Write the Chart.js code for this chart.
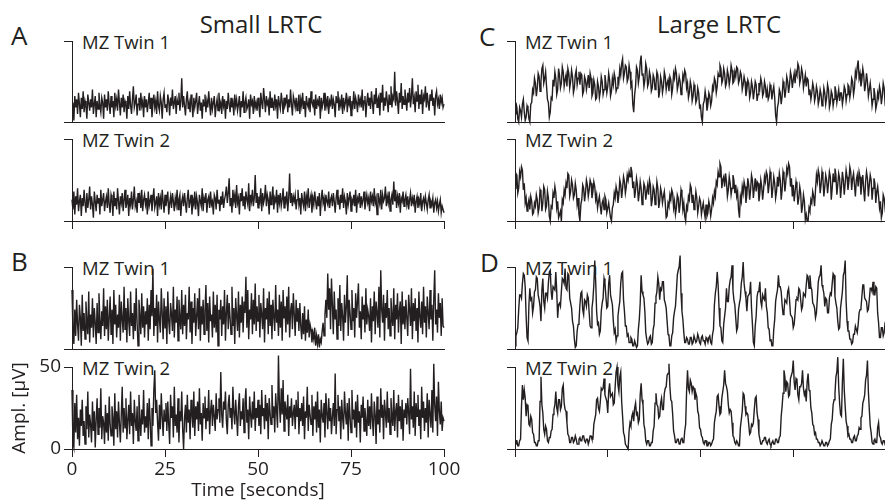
<!DOCTYPE html>
<html>
<head>
<meta charset="utf-8">
<script src="https://cdn.jsdelivr.net/npm/chart.js@4.4.0/dist/chart.umd.min.js"></script>
<style>
  body { margin: 0; width: 885px; height: 502px; overflow: hidden; background: #fff; position: relative;
         font-family: "Open Sans", sans-serif; color: #231f20; }
  .lbl { position: absolute; white-space: nowrap; line-height: 1; transform: translateY(-50%); }
  .letter { font-size: 26px; }
  .head { font-size: 24px; transform: translate(-50%, -50%); }
  .twin { font-size: 18.5px; }
  canvas { position: absolute; }
</style>
</head>
<body>
<div class="lbl letter" style="left:11px;top:35px">A</div>
<div class="lbl letter" style="left:11px;top:261px">B</div>
<div class="lbl letter" style="left:479px;top:36px">C</div>
<div class="lbl letter" style="left:480px;top:262px">D</div>
<div class="lbl head" style="left:261px;top:24px">Small LRTC</div>
<div class="lbl head" style="left:719px;top:24px">Large LRTC</div>
<div class="lbl twin" style="left:82px;top:42px">MZ Twin 1</div>
<div class="lbl twin" style="left:82px;top:140px">MZ Twin 2</div>
<div class="lbl twin" style="left:82px;top:268px">MZ Twin 1</div>
<div class="lbl twin" style="left:82px;top:368px">MZ Twin 2</div>
<div class="lbl twin" style="left:525px;top:42px">MZ Twin 1</div>
<div class="lbl twin" style="left:525px;top:140px">MZ Twin 2</div>
<div class="lbl twin" style="left:525px;top:268px">MZ Twin 1</div>
<div class="lbl twin" style="left:525px;top:368px">MZ Twin 2</div>

<canvas id="a1"></canvas>
<canvas id="a2"></canvas>
<canvas id="b1"></canvas>
<canvas id="b2"></canvas>
<canvas id="c1"></canvas>
<canvas id="c2"></canvas>
<canvas id="d1"></canvas>
<canvas id="d2"></canvas>

<script>
const timeRange = [0, 100]; // seconds
const timeTicks = [0, 25, 50, 75, 100];
const amplTicks = [0, 50];

// amplitude envelopes (uV), one sample every 0.25 s
const smallTwin1A = [
  4,12,1,16,9,14,5,18,11,3,15,8,19,6,13,10,2,17,12,7,14,9,20,5,11,16,3,13,8,18,10,6,15,12,2,17,9,14,7,19,
  11,5,16,9,13,3,18,10,14,7,20,12,4,15,9,17,6,13,11,2,16,8,19,10,5,14,22,9,12,17,4,11,15,7,18,10,13,3,16,9,
  14,6,12,18,8,15,3,11,17,9,13,5,19,10,7,16,12,2,14,18,9,11,6,17,13,4,15,10,20,8,12,16,5,14,11,18,7,13,27,9,
  16,10,4,14,19,8,12,6,17,11,3,15,9,13,18,5,11,16,7,12,2,14,10,17,6,13,9,19,11,4,15,8,12,16,3,10,14,7,18,9,
  12,5,16,10,14,2,13,8,18,11,6,15,9,12,4,17,10,14,7,11,16,3,13,9,19,6,12,15,8,10,14,2,17,11,13,5,16,9,12,7,
  15,10,3,18,12,8,21,14,6,16,11,13,4,19,9,15,12,7,17,10,14,2,16,11,8,18,13,5,15,10,12,17,6,14,9,20,11,4,16,13,
  9,15,7,12,17,5,14,10,18,8,13,3,16,11,9,15,6,19,12,10,14,4,17,8,13,11,16,2,15,9,12,18,7,14,10,16,5,13,11,17,
  8,14,11,3,16,12,19,7,13,10,17,5,15,9,12,18,6,14,11,16,4,13,10,19,8,15,12,6,17,11,14,9,20,7,13,16,3,12,18,10,
  15,8,19,12,5,17,11,21,9,14,16,4,18,12,23,7,15,10,19,13,6,17,11,22,9,16,14,31,10,19,13,5,18,12,24,8,16,11,20,14,
  7,18,12,21,9,16,27,11,15,6,19,13,23,8,17,11,20,5,16,14,22,9,18,12,7,17,13,20,10,15,4,16,19,11,14,8,17,12,15,9,
  11
];
const smallTwin2A = [
  13,7,18,4,15,10,20,6,12,16,3,14,9,19,11,5,17,8,13,21,7,15,10,2,18,12,6,16,11,14,4,19,9,13,17,6,12,15,8,20,
  10,5,16,13,3,18,9,14,7,20,12,4,15,11,17,6,13,19,8,11,16,3,14,10,18,7,13,21,9,12,5,17,11,15,8,19,6,13,16,10,
  14,4,18,9,12,16,6,13,20,8,11,15,3,17,10,14,7,19,12,5,16,9,13,18,4,11,15,8,17,12,6,14,10,19,7,13,16,3,12,15,
  9,17,11,5,14,19,8,12,16,4,13,10,18,7,15,11,3,16,12,9,20,6,14,11,17,5,13,15,8,18,10,12,4,16,14,7,19,11,13,6,
  15,10,18,8,13,16,21,11,17,26,9,14,5,19,12,16,8,22,11,14,4,17,12,20,9,15,7,18,13,10,23,6,16,12,19,9,14,28,11,17,
  8,15,12,20,6,17,11,14,22,9,16,13,4,18,10,15,21,7,14,12,19,5,16,11,17,9,13,20,8,15,12,18,6,14,29,11,17,9,15,12,
  16,7,13,19,10,14,4,17,12,9,18,6,15,11,20,8,13,16,5,14,10,18,12,7,15,9,17,3,13,19,11,14,6,16,12,10,18,8,13,15,
  9,17,12,5,14,19,10,13,7,16,11,20,8,15,12,4,17,10,14,18,6,13,11,16,9,19,5,14,12,17,8,15,10,13,18,7,12,16,11,14,
  6,18,12,15,9,20,11,14,4,17,13,10,19,7,16,12,14,21,9,15,11,18,6,13,16,10,24,12,19,8,15,11,17,5,14,12,18,9,13,16,
  10,15,7,13,17,9,14,11,16,5,12,15,8,13,10,17,6,12,14,9,15,11,7,13,16,8,12,10,14,5,11,13,8,12,6,10,13,5,9,7,
  5
];
const smallTwin1B = [
  36,12,3,24,8,30,15,5,27,19,2,33,11,22,6,29,17,9,35,4,21,13,31,7,25,16,3,28,10,34,18,6,23,14,37,8,26,12,30,5,
  19,32,9,24,3,36,15,27,7,21,13,33,5,29,18,10,38,12,25,4,31,17,8,35,14,22,6,28,11,37,16,2,30,20,9,34,13,26,7,23,
  15,31,5,27,12,36,20,49,8,25,14,33,4,29,18,10,37,22,6,31,13,26,3,35,17,9,28,21,11,38,7,24,16,32,5,30,19,12,36,9,
  27,14,33,6,22,18,38,10,29,3,25,16,34,8,20,31,12,37,5,26,15,30,9,23,39,11,28,4,32,17,21,7,35,13,27,10,33,2,24,18,
  30,8,26,15,36,5,22,33,12,28,19,9,38,14,25,3,31,20,11,35,7,27,16,32,10,29,22,44,13,36,6,24,18,34,9,30,15,40,11,26,
  17,33,7,28,21,12,37,4,25,18,31,9,35,14,27,6,30,20,11,39,16,24,8,33,13,29,5,36,19,26,10,32,15,38,7,23,28,12,34,21,
  8,30,17,25,11,28,14,6,22,9,26,5,18,10,24,7,15,12,4,10,6,13,2,8,3,9,1,6,4,11,16,8,21,30,19,46,24,37,12,43,
  27,9,35,18,24,6,31,14,39,11,28,20,5,33,16,26,45,8,30,22,12,36,17,25,7,34,19,29,40,13,23,6,32,18,27,10,37,15,24,20,
  11,31,4,26,17,35,9,29,22,13,38,7,48,24,16,33,5,28,19,36,12,25,8,31,20,14,37,6,27,18,34,10,23,29,3,35,15,26,12,30,
  19,8,33,24,14,37,6,28,17,31,11,25,4,35,20,13,29,9,38,16,26,7,32,22,12,36,18,27,5,30,48,15,24,10,34,19,28,8,31,14,
  13
];
const smallTwin2B = [
  36,4,1,28,10,33,6,19,2,24,14,30,8,17,3,26,12,35,7,21,15,4,29,11,23,1,18,31,9,25,13,37,6,20,16,3,27,10,22,5,
  32,15,8,26,19,2,34,12,23,7,29,16,4,21,38,10,25,13,31,6,18,27,9,35,14,22,3,30,17,11,26,5,33,19,8,24,15,36,10,20,
  13,28,6,31,18,2,25,14,36,48,22,30,16,5,27,12,34,20,8,24,17,28,11,29,15,3,33,19,26,7,38,14,21,10,31,4,23,17,35,12,
  0,19,27,10,33,16,24,6,30,21,13,35,8,26,18,29,11,37,15,22,5,28,19,32,12,25,17,36,9,23,30,14,27,20,11,34,18,24,31,16,
  47,21,13,29,24,35,17,9,27,33,19,25,12,38,22,15,30,20,8,26,34,14,23,18,31,10,28,37,16,24,6,32,21,13,29,18,35,11,25,19,
  30,14,27,9,36,20,25,12,33,17,28,6,31,22,15,39,19,26,10,34,23,13,57,28,16,37,21,42,11,29,24,18,33,8,26,19,31,14,22,27,
  12,30,20,35,9,25,17,28,14,32,6,23,19,38,11,27,21,15,33,8,26,18,29,10,35,13,24,4,30,20,16,28,7,34,22,12,31,17,25,9,
  20,28,14,46,9,24,33,17,26,6,30,19,12,35,22,15,28,5,31,20,10,36,18,24,13,29,7,33,16,23,4,27,19,32,11,25,17,8,30,14,
  26,12,34,18,8,29,21,3,32,15,24,10,37,19,27,6,30,22,13,35,16,25,9,31,20,14,36,11,23,28,7,33,17,26,12,30,5,24,19,28,
  15,31,22,9,49,18,26,13,35,8,28,20,33,14,24,6,38,19,29,11,25,16,34,7,30,21,13,36,10,52,27,17,32,8,41,23,15,29,11,19,
  17
];
const largeTwin1C = [
  5,12,9,2,0,9,7,3,11,14,6,1,3,10,8,2,0,11,12,20,18,27,24,16,21,30,28,19,25,33,35,24,27,31,22,14,12,3,6,15,
  14,26,22,31,27,17,20,33,29,21,24,34,31,22,26,29,22,33,30,21,25,32,28,18,21,29,32,23,27,31,23,30,29,17,19,28,26,20,24,29,
  21,30,27,16,18,26,23,14,15,25,22,15,19,28,25,17,20,29,24,18,22,30,26,16,19,27,23,30,27,19,21,28,25,33,29,36,39,27,30,35,
  34,25,27,35,31,22,24,11,6,17,22,34,32,24,28,37,41,29,30,22,26,36,33,22,24,31,28,19,21,29,27,20,23,31,29,15,19,28,25,18,
  22,31,28,20,24,26,19,28,26,17,21,30,27,33,30,20,23,28,25,17,20,29,26,32,30,21,24,15,18,25,22,13,16,23,20,12,14,21,18,9,
  10,3,0,11,13,19,15,7,11,18,16,10,13,22,20,27,25,18,22,30,28,35,33,24,26,33,30,22,24,32,29,23,27,35,32,24,25,31,28,34,
  33,24,26,31,29,20,23,28,25,16,20,26,24,15,18,25,22,14,19,25,23,13,17,24,21,27,24,16,18,25,22,15,20,14,16,23,21,14,19,22,
  15,4,0,9,12,20,18,11,16,25,22,15,20,28,25,18,23,31,28,21,26,30,24,31,29,36,34,24,27,33,30,21,25,29,22,27,26,17,20,14,
  18,24,21,13,16,22,19,11,14,20,17,10,13,21,18,11,15,23,20,9,12,19,17,10,14,22,19,12,16,20,13,18,18,11,15,22,20,13,17,23,
  22,15,19,27,25,17,21,31,28,34,38,27,30,22,26,33,29,19,23,30,25,16,20,24,18,10,14,21,17,8,11,18,15,22,19,11,16,24,21,12,
  14
];
const largeTwin2C = [
  20,29,28,17,20,30,27,33,31,19,23,11,14,6,10,13,7,15,12,4,5,11,9,16,13,5,8,19,17,6,11,21,19,7,9,18,14,3,0,9,
  8,17,14,21,17,8,12,2,4,6,0,13,11,19,16,23,20,29,28,15,18,25,22,14,16,23,19,10,14,4,0,10,13,22,20,12,17,25,22,15,
  19,25,23,14,18,24,21,13,16,8,12,15,9,4,11,13,7,15,13,5,8,11,6,2,0,8,10,17,14,21,18,11,16,25,22,14,20,27,24,17,
  21,28,25,30,27,33,30,20,24,14,19,26,22,12,17,24,20,10,14,23,21,13,18,22,16,25,22,9,13,21,19,10,15,24,20,8,12,20,17,11,
  15,18,11,2,3,11,9,16,13,19,17,8,12,4,8,16,14,5,10,19,16,7,11,3,0,9,7,15,13,22,20,11,16,7,11,18,14,5,9,14,
  12,4,8,11,6,2,10,3,5,12,9,3,7,14,11,18,15,24,22,30,27,35,33,20,25,27,21,29,24,15,19,27,23,16,20,28,25,17,22,15,
  18,7,2,15,12,21,17,24,21,11,16,26,22,13,19,28,25,14,20,26,18,24,23,12,17,25,21,13,19,27,24,30,28,17,22,30,26,14,20,27,
  23,14,18,27,21,29,25,13,19,30,27,18,24,32,29,35,33,21,26,15,22,12,18,24,20,10,14,21,17,5,9,16,12,1,4,0,0,8,6,13,
  11,18,15,9,19,28,24,31,28,17,22,30,26,15,21,28,25,17,23,30,27,13,20,29,24,32,28,16,22,29,26,14,21,30,25,16,23,31,27,19,
  24,33,30,19,26,29,22,15,25,28,21,30,27,16,23,28,19,12,24,30,26,15,22,28,25,13,20,26,23,11,18,21,15,8,12,2,5,16,14,8,
  11
];
const largeTwin1D = [
  2,8,10,13,24,33,33,31,40,46,45,38,20,7,5,27,37,30,31,22,26,35,36,44,43,33,30,26,17,36,43,29,25,34,34,31,40,47,48,35,
  30,38,38,36,47,35,19,27,28,26,35,43,42,40,49,37,36,46,45,31,28,25,17,14,6,1,2,11,15,17,27,34,35,24,21,30,29,26,33,31,
  22,14,13,25,30,39,54,41,23,15,16,9,11,23,28,31,43,40,32,25,26,40,45,33,30,27,17,10,12,5,8,20,25,29,40,46,47,30,23,14,
  14,8,9,4,4,7,6,2,2,5,3,1,2,12,18,28,45,35,33,31,23,10,6,3,4,7,8,3,4,12,15,28,32,35,44,40,30,37,36,41,
  41,30,28,25,17,9,8,2,2,8,10,19,23,26,35,45,48,50,57,34,23,18,10,4,4,7,6,3,3,7,7,3,4,8,8,4,5,9,7,4,
  3,7,8,5,5,3,7,6,4,7,8,4,3,9,12,27,34,38,47,39,25,14,13,5,4,15,20,25,37,29,29,38,42,44,51,36,30,27,19,11,
  13,24,28,31,40,44,53,40,35,31,23,32,33,34,41,25,15,4,2,14,20,32,35,36,41,29,26,33,31,30,37,26,22,13,12,5,6,2,2,12,
  18,29,33,36,45,38,38,35,27,21,23,30,29,28,35,37,30,21,20,19,13,15,22,30,31,30,37,36,30,24,26,34,33,32,39,45,44,37,45,38,
  36,28,27,25,19,22,31,41,44,45,51,39,37,34,26,31,30,22,22,31,34,33,40,46,45,32,28,25,17,12,13,25,30,35,45,47,54,29,17,11,
  11,6,6,3,4,9,9,14,12,10,15,22,24,25,32,39,39,31,30,29,23,24,30,37,37,35,41,33,33,38,37,22,16,7,7,13,13,8,10,16,
  17
];
const largeTwin2D = [
  3,5,5,2,2,5,6,26,39,30,36,31,20,27,26,15,14,20,18,10,9,4,4,2,2,5,5,29,44,27,22,12,9,14,12,5,4,7,7,11,
  12,21,24,27,35,25,22,30,30,24,26,37,39,28,24,23,16,9,8,4,4,7,7,4,5,8,6,3,3,6,7,5,5,8,8,5,4,6,6,3,
  5,8,8,6,6,15,18,21,30,31,25,23,29,37,36,37,43,33,31,29,22,35,40,32,33,34,27,28,38,47,50,39,35,44,47,29,20,10,8,3,
  2,1,0,11,16,14,20,22,17,25,28,21,22,16,18,33,40,30,27,15,12,5,3,5,5,2,2,4,4,11,14,28,34,27,26,19,20,28,31,24,
  24,34,37,38,45,46,52,38,30,29,21,11,8,4,4,6,6,3,3,6,7,4,4,11,15,35,48,37,35,42,40,35,38,37,30,34,32,23,21,13,
  12,8,7,4,3,5,5,2,2,4,4,2,3,5,6,16,20,23,32,33,26,21,22,31,35,39,48,40,38,35,27,22,24,23,16,8,7,4,3,5,
  4,2,2,13,18,23,34,33,26,21,22,21,15,9,10,15,14,16,24,31,32,22,18,9,6,3,3,5,5,7,7,4,3,5,6,3,2,4,5,3,
  3,6,6,4,4,7,8,20,26,34,48,44,35,41,40,32,33,43,45,47,54,41,36,43,42,33,30,38,38,40,48,37,33,35,29,41,46,36,35,25,
  22,15,14,9,10,6,6,4,4,2,3,5,5,2,2,4,4,2,3,5,6,15,18,27,30,34,44,47,56,38,28,21,20,41,55,36,26,17,14,8,
  9,6,6,4,4,7,8,5,5,8,9,13,12,19,20,28,30,33,42,45,54,35,24,14,10,4,3,5,6,4,4,13,16,8,7,4,3,5,5,3,
  4
];

const ink = "#231f20";
const axisFont = { family: "'Open Sans', sans-serif", size: 19 };

// chart area boxes in page pixels: columns [left, right], rows [top (50 uV), bottom (0 uV)]
const leftCol = [72, 444];
const rightCol = [515, 886];
const rows = [[41, 122], [139, 221], [267, 349], [367, 449]];

function toPoints(values) {
  const step = (timeRange[1] - timeRange[0]) / (values.length - 1);
  return values.map((v, i) => ({ x: timeRange[0] + i * step, y: v }));
}

function makePanel(id, values, col, row, opts) {
  const [L, R] = col;
  const [T, B] = row;
  const padL = opts.labels ? L : 12;
  const padT = 16, padR = opts.labels ? 20 : 4;
  const padB = opts.labels ? 502 - B : (opts.xTicks ? 12 : 4);
  const canvas = document.getElementById(id);
  canvas.width = padL + (R - L) + padR;
  canvas.height = padT + (B - T) + padB;
  canvas.style.left = (L - padL) + "px";
  canvas.style.top = (T - padT) + "px";

  new Chart(canvas, {
    type: "line",
    data: {
      datasets: [{
        data: toPoints(values),
        borderColor: ink,
        borderWidth: 1.4,
        pointRadius: 0,
        tension: 0,
        fill: false,
        clip: false,
      }],
    },
    options: {
      responsive: false,
      animation: false,
      devicePixelRatio: 1,
      layout: { padding: { top: padT, right: padR, left: 0, bottom: 0 } },
      plugins: { legend: { display: false }, tooltip: { enabled: false } },
      scales: {
        x: {
          type: "linear",
          min: timeRange[0],
          max: timeRange[1],
          afterBuildTicks: (s) => { s.ticks = timeTicks.map((v) => ({ value: v })); },
          afterFit: (s) => { s.height = padB; },
          grid: { drawOnChartArea: false, drawTicks: !!opts.xTicks, tickLength: 8, color: ink },
          border: { color: ink, width: 1 },
          ticks: { display: !!opts.labels, color: ink, font: axisFont, padding: 1, maxRotation: 0, autoSkip: false },
          title: { display: !!opts.labels, text: "Time [seconds]", color: ink, font: axisFont, padding: 0 },
        },
        y: {
          type: "linear",
          min: 0,
          max: 50,
          afterBuildTicks: (s) => { s.ticks = amplTicks.map((v) => ({ value: v })); },
          afterFit: (s) => { s.width = padL; },
          grid: { drawOnChartArea: false, drawTicks: true, tickLength: 8, color: ink },
          border: { color: ink, width: 1 },
          ticks: { display: !!opts.labels, color: ink, font: axisFont, padding: 3 },
          title: { display: !!opts.labels, text: "Ampl. [µV]", color: ink, font: axisFont, padding: { top: 8, bottom: 0 } },
        },
      },
    },
  });
}

makePanel("a1", smallTwin1A, leftCol, rows[0], {});
makePanel("a2", smallTwin2A, leftCol, rows[1], { xTicks: true });
makePanel("b1", smallTwin1B, leftCol, rows[2], {});
makePanel("b2", smallTwin2B, leftCol, rows[3], { xTicks: true, labels: true });
makePanel("c1", largeTwin1C, rightCol, rows[0], {});
makePanel("c2", largeTwin2C, rightCol, rows[1], { xTicks: true });
makePanel("d1", largeTwin1D, rightCol, rows[2], {});
makePanel("d2", largeTwin2D, rightCol, rows[3], { xTicks: true });
</script>
</body>
</html>
